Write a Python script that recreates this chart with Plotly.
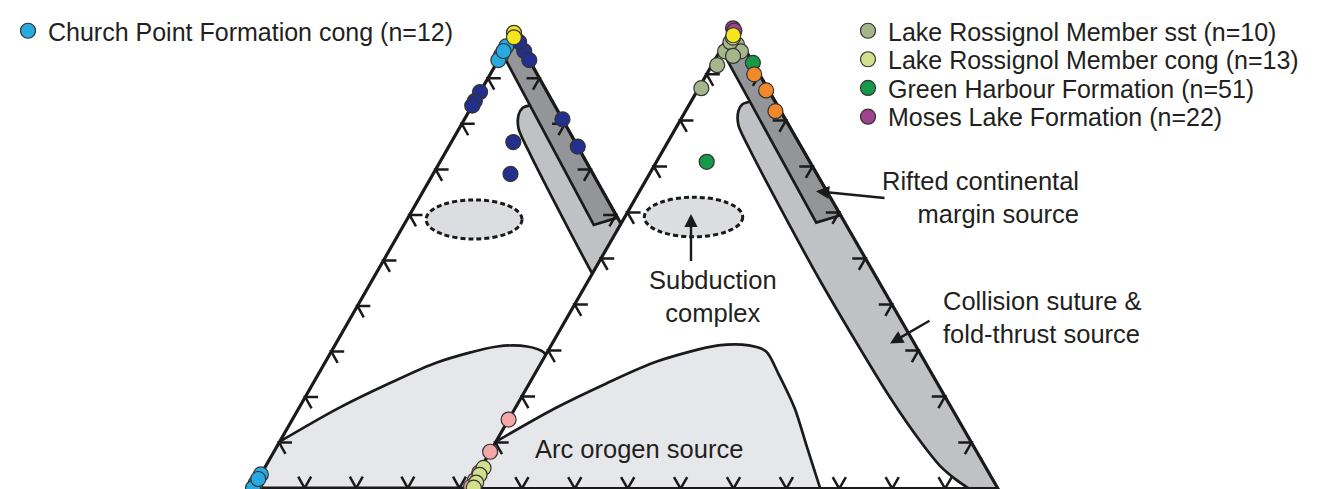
import plotly.graph_objects as go

# ---------------- data: ternary percentages (Qp, Lv, Ls) ----------------
tick_values = [10, 20, 30, 40, 50, 60, 70, 80, 90]

# field boundaries (Qp-Lv-Ls provenance fields)
arc_qp = [10.2, 17.4, 22.8, 27.6, 31.1, 31.1, 29.8, 25.0, 17.4, 9.0, 0.0]
arc_lv = [89.8, 75.1, 62.7, 50.7, 37.3, 31.5, 28.9, 29.0, 29.7, 31.6, 33.6]
arc_ls = [0.0, 7.5, 14.5, 21.7, 31.6, 37.4, 41.3, 46.0, 52.9, 59.4, 66.4]

col_qp = [84.0, 83.5, 82.0, 79.0, 74.0, 66.0, 45.0, 20.0, 10.0, 5.0, 2.0, 0.0]
col_lv = [5.0, 6.5, 8.0, 9.5, 10.0, 10.4, 11.0, 10.5, 9.5, 8.5, 7.0, 5.5]
col_ls = [11.0, 10.0, 10.0, 11.5, 16.0, 23.6, 44.0, 69.5, 80.5, 86.5, 91.0, 94.5]

rift_qp = [100.0, 95.5, 57.8, 59.4]
rift_lv = [0.0, 4.5, 5.4, 0.0]
rift_ls = [0.0, 0.0, 36.8, 40.6]

subd_center = [59.0, 28.0, 13.0]

# ---------------- samples ----------------
# left diagram
church_qp = [97, 95, 94, 96, 3, 1, 0, 2]
church_lv = [3, 5, 6, 4, 97, 99, 100, 98]
church_ls = [0, 0, 0, 0, 0, 0, 0, 0]

navyL_qp = [87, 85, 84, 96, 94, 81, 75, 76, 69, 98]
navyL_lv = [13, 15, 16, 0, 0, 0, 0, 12, 16, 0]
navyL_ls = [0, 0, 0, 4, 6, 19, 25, 12, 15, 2]

yellowL_qp = [100, 99]
yellowL_lv = [0, 0.5]
yellowL_ls = [0, 0.5]

# right diagram
lrsst_qp = [95, 96.5, 95, 92, 87, 97, 94]
lrsst_lv = [4, 1, 1, 7, 12.5, 2, 3]
lrsst_ls = [1, 2.5, 4, 1, 0.5, 1, 3]

lrcong_qp = [4.5, 3, 1.3, 0.2, 98]
lrcong_lv = [95, 96.5, 98, 99, 1]
lrcong_ls = [0.5, 0.5, 0.7, 0.8, 1]

gh_qp = [92.5, 71]
gh_lv = [0, 19.5]
gh_ls = [7.5, 9.5]

ml_qp = [100, 99.5]
ml_lv = [0, 0]
ml_ls = [0, 0.5]

orange_qp = [90, 86.5, 82]
orange_lv = [1, 0.5, 1]
orange_ls = [9, 13, 17]

pink_qp = [15, 8, 3.5, 1.8, 0.4]
pink_lv = [85, 92, 96.3, 98, 99.4]
pink_ls = [0, 0, 0.2, 0.2, 0.2]

yellowR_qp = [98.5]
yellowR_lv = [0.7]
yellowR_ls = [0.8]

# ---------------- geometry / style ----------------
TRI_L = dict(blx=245, bly=480, w=516, h=460, apx=261)
TRI_R = dict(blx=461, bly=480.5, w=529, h=465, apx=264)

FONT = "Liberation Sans, Arial, Helvetica, sans-serif"
TXT = "#231f20"
LINE = "#1a1a1a"
ARC_FILL = "#e6e7ea"
COL_FILL = "#bfc1c4"
RIFT_FILL = "#939598"
ELL_FILL = "#dcdde0"
MSIZE = 15


def to_xy(tri, qp, lv, ls):
    xs, ys = [], []
    for a, b, c in zip(qp, lv, ls):
        if a is None:
            xs.append(None); ys.append(None); continue
        s = a + b + c
        a, c = a / s, c / s
        xs.append(tri["blx"] + c * tri["w"] + a * tri["apx"])
        ys.append(tri["bly"] - a * tri["h"])
    return xs, ys


fig = go.Figure()


def poly(tri, qp, lv, ls, fill, line_w=0, close=True):
    x, y = to_xy(tri, qp, lv, ls)
    if close:
        x = x + [x[0]]; y = y + [y[0]]
    fig.add_trace(go.Scatter(x=x, y=y, mode="lines", fill="toself", fillcolor=fill,
                             line=dict(color=LINE, width=line_w), showlegend=False,
                             hoverinfo="skip"))


def curve(tri, qp, lv, ls, width=2.7):
    x, y = to_xy(tri, qp, lv, ls)
    fig.add_trace(go.Scatter(x=x, y=y, mode="lines",
                             line=dict(color=LINE, width=width, shape="spline", smoothing=0.8),
                             showlegend=False, hoverinfo="skip"))


ARM = 2.5  # chevron arm length, in percent


def draw_triangle(tri):
    # white body
    poly(tri, [100, 0, 0], [0, 100, 0], [0, 0, 100], "white")
    # collision suture & fold-thrust field
    poly(tri, col_qp + [0, col_qp[0]], col_lv + [0, 0], col_ls + [100, 100 - col_qp[0]], COL_FILL)
    # arc orogen field
    poly(tri, arc_qp + [0], arc_lv + [100], arc_ls + [0], ARC_FILL)
    # rifted continental margin
    poly(tri, rift_qp, rift_lv, rift_ls, RIFT_FILL, line_w=2.7)
    curve(tri, col_qp, col_lv, col_ls)
    curve(tri, arc_qp, arc_lv, arc_ls)
    # outline
    x, y = to_xy(tri, [100, 0, 0, 100], [0, 100, 0, 0], [0, 0, 100, 0])
    fig.add_trace(go.Scatter(x=x, y=y, mode="lines", line=dict(color=LINE, width=3.2),
                             showlegend=False, hoverinfo="skip"))
    # chevron ticks along the three edges
    qp, lv, ls = [], [], []
    for t in tick_values:
        # Qp-Lv edge (Ls = 0)
        qp += [t, t, t - ARM, None]; lv += [100 - t - ARM, 100 - t, 100 - t, None]; ls += [ARM, 0, ARM, None]
        # Lv-Ls edge (Qp = 0)
        qp += [ARM, 0, ARM, None]; lv += [100 - t - ARM, 100 - t, 100 - t, None]; ls += [t, t, t - ARM, None]
        # Qp-Ls edge (Lv = 0)
        qp += [t, t, t - ARM, None]; lv += [ARM, 0, ARM, None]; ls += [100 - t - ARM, 100 - t, 100 - t, None]
    x, y = to_xy(tri, qp, lv, ls)
    fig.add_trace(go.Scatter(x=x, y=y, mode="lines", line=dict(color=LINE, width=2.5),
                             showlegend=False, hoverinfo="skip", connectgaps=False))
    # subduction complex ellipse
    cx, cy = to_xy(tri, [subd_center[0]], [subd_center[1]], [subd_center[2]])
    rx, ry = 0.093 * tri["w"], 0.043 * tri["h"]
    fig.add_shape(type="circle", xref="x", yref="y", x0=cx[0] - rx, x1=cx[0] + rx,
                  y0=cy[0] - ry, y1=cy[0] + ry, fillcolor=ELL_FILL,
                  line=dict(color=LINE, width=3, dash="5px,3px"), layer="above")


def points(tri, qp, lv, ls, color, name=None, legend="legend"):
    x, y = to_xy(tri, qp, lv, ls)
    fig.add_trace(go.Scatter(x=x, y=y, mode="markers", name=name, legend=legend,
                             showlegend=name is not None,
                             marker=dict(size=MSIZE, color=color, line=dict(color="#333333", width=1.2))))


draw_triangle(TRI_L)
draw_triangle(TRI_R)

# left diagram samples
points(TRI_L, navyL_qp, navyL_lv, navyL_ls, "#232f8c")
points(TRI_L, church_qp, church_lv, church_ls, "#27a9e1", "Church Point Formation cong (n=12)", "legend")
points(TRI_L, yellowL_qp, yellowL_lv, yellowL_ls, "#f4e61c")

# right diagram samples
points(TRI_R, pink_qp, pink_lv, pink_ls, "#f4a9a8")
points(TRI_R, lrsst_qp, lrsst_lv, lrsst_ls, "#a4b68a", "Lake Rossignol Member sst (n=10)", "legend2")
points(TRI_R, lrcong_qp, lrcong_lv, lrcong_ls, "#d2e08c", "Lake Rossignol Member cong (n=13)", "legend3")
points(TRI_R, gh_qp, gh_lv, gh_ls, "#17994a", "Green Harbour Formation (n=51)", "legend4")
points(TRI_R, ml_qp, ml_lv, ml_ls, "#a0438f", "Moses Lake Formation (n=22)", "legend5")
points(TRI_R, orange_qp, orange_lv, orange_ls, "#f3892a")
points(TRI_R, yellowR_qp, yellowR_lv, yellowR_ls, "#f4e61c")

# ---------------- labels ----------------
LBL = 25.5


def label(text, x, y, anchor="center"):
    fig.add_annotation(x=x, y=y, xref="x", yref="y", text=text, showarrow=False,
                       xanchor=anchor, yanchor="middle", align=anchor if anchor != "center" else "center",
                       font=dict(family=FONT, size=LBL, color=TXT))


def arrow(x0, y0, x1, y1):
    fig.add_annotation(x=x1, y=y1, ax=x0, ay=y0, xref="x", yref="y", axref="x", ayref="y",
                       text="", showarrow=True, arrowhead=2, arrowsize=1.1, arrowwidth=2.4,
                       arrowcolor=LINE)


label("Subduction<br>complex", 705, 286)
arrow(683, 252, 683, 203)
label("Rifted continental<br>margin source", 1073, 186, "right")
arrow(878, 187, 808, 180)
label("Collision suture &amp;<br>fold-thrust source", 933, 307.5, "left")
arrow(923, 310, 882, 334)
label("Arc orogen source", 631, 440)

legend_font = dict(family=FONT, size=25, color=TXT)
H = 489.0


def leg(x_px, y_px):
    return dict(x=x_px / 1320.0, y=1 - y_px / H, xanchor="left", yanchor="middle", font=legend_font,
                bgcolor="rgba(0,0,0,0)", itemsizing="trace", borderwidth=0)


fig.update_layout(
    width=1320, height=489,
    margin=dict(l=0, r=0, t=0, b=0),
    paper_bgcolor="white", plot_bgcolor="white",
    xaxis=dict(range=[0, 1320], visible=False, fixedrange=True),
    yaxis=dict(range=[489, 0], visible=False, fixedrange=True),
    legend=leg(0, 18),
    legend2=leg(840, 18),
    legend3=leg(840, 47),
    legend4=leg(840, 76),
    legend5=leg(840, 105),
)

fig.write_html("out.html")
